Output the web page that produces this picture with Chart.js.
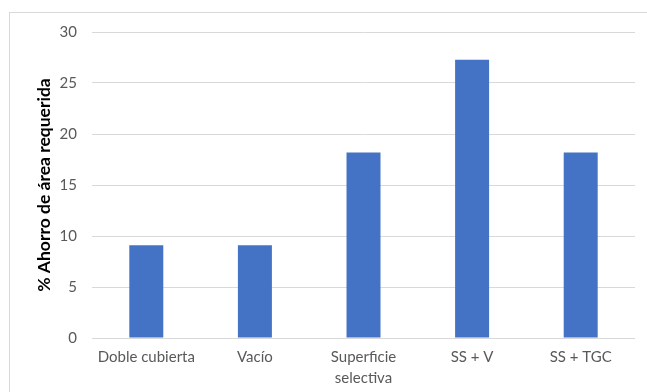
<!DOCTYPE html>
<html>
<head>
<meta charset="utf-8">
<script src="https://cdn.jsdelivr.net/npm/chart.js@4/dist/chart.umd.min.js"></script>
<style>
  html, body { margin: 0; padding: 0; background: #ffffff; }
  #frame { position: absolute; left: 9px; top: 12px; width: 700px; height: 400px;
           border-left: 1px solid #d9d9d9; border-top: 1px solid #d9d9d9; }
  #wrap { position: absolute; left: 0; top: 0; width: 647px; height: 392px; }
</style>
</head>
<body>
<div id="frame"></div>
<div id="wrap"><canvas id="c" width="647" height="392"></canvas></div>
<script>
// Categories and savings in required area (%)
const categories = ['Doble cubierta', 'Vacío', ['Superficie', 'selectiva'], 'SS + V', 'SS + TGC'];
const savings = [9.09, 9.09, 18.18, 27.27, 18.18];
const yTicks = [0, 5, 10, 15, 20, 25, 30];

const fontFamily = 'Lato, "Open Sans", sans-serif';

new Chart(document.getElementById('c'), {
  type: 'bar',
  data: {
    labels: categories,
    datasets: [{
      data: savings,
      backgroundColor: '#4472C4',
      borderWidth: 0,
      categoryPercentage: 1,
      barPercentage: 0.313
    }]
  },
  options: {
    responsive: false,
    animation: false,
    devicePixelRatio: 1,
    layout: { padding: { top: 32, right: 12, bottom: 0, left: 0 } },
    plugins: { legend: { display: false }, tooltip: { enabled: false } },
    scales: {
      x: {
        grid: { display: false, drawTicks: false },
        border: { display: false },
        ticks: {
          color: '#595959',
          font: { family: fontFamily, size: 15, lineHeight: 1.4 },
          padding: 9,
          maxRotation: 0,
          autoSkip: false
        },
        afterFit: (s) => { s.height = 54; }
      },
      y: {
        min: 0,
        max: 30,
        afterBuildTicks: (s) => { s.ticks = yTicks.map(v => ({ value: v })); },
        grid: { color: '#d9d9d9', lineWidth: 1, drawTicks: false },
        border: { display: false },
        ticks: {
          color: '#595959',
          font: { family: fontFamily, size: 15 },
          padding: 15
        },
        title: {
          display: true,
          text: '% Ahorro de área requerida',
          color: '#000000',
          font: { family: fontFamily, size: 17.5, weight: 'bold' },
          padding: { top: 34, bottom: 0 }
        },
        afterFit: (s) => { s.width = 92; }
      }
    }
  }
});
</script>
</body>
</html>
